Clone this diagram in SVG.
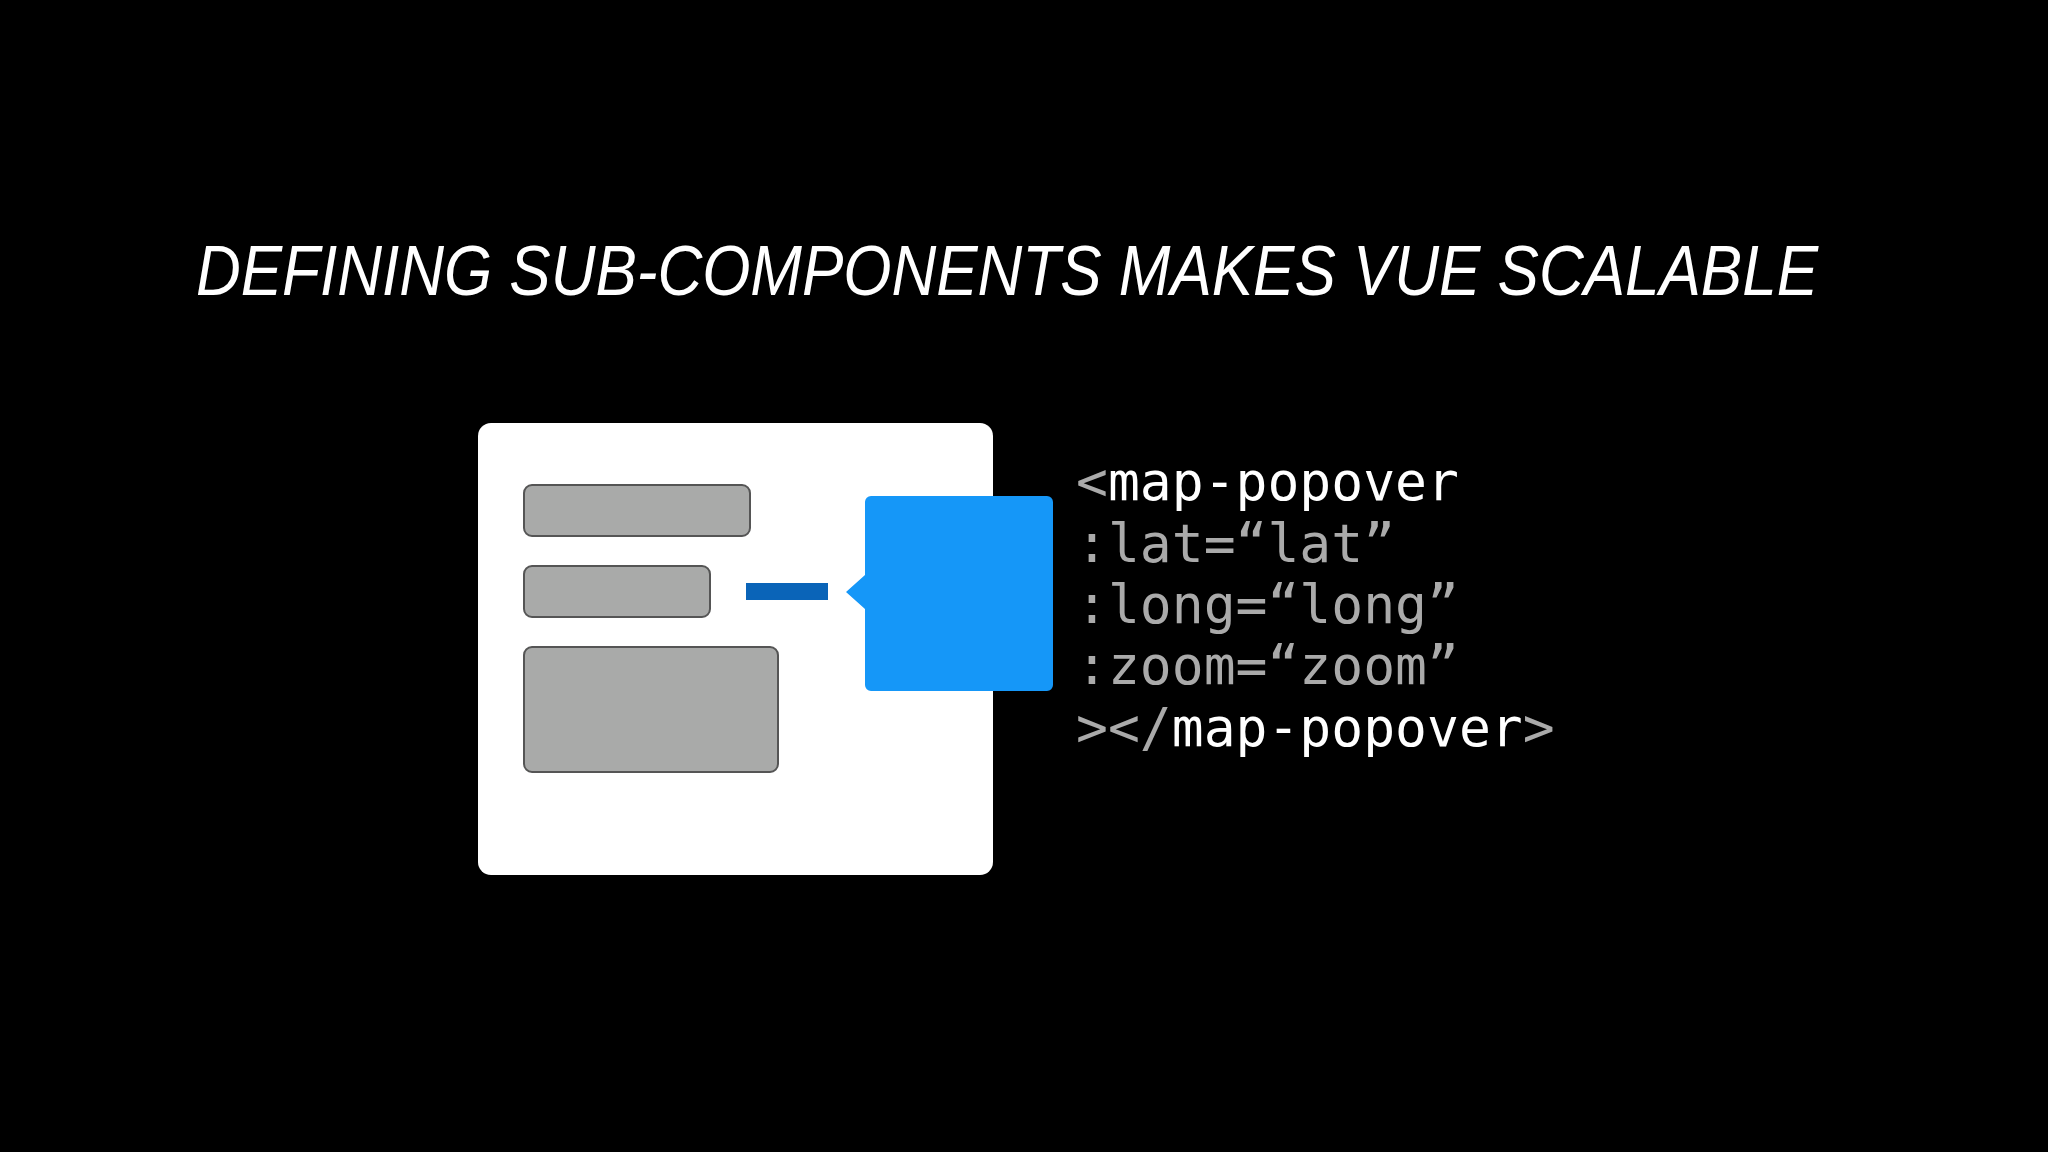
<svg xmlns="http://www.w3.org/2000/svg" width="2048" height="1152" viewBox="0 0 2048 1152">
<style>
.g{fill:#a9aaa9;stroke:#555;stroke-width:2}
.code{font-family:"DejaVu Sans Mono",monospace;font-size:53px;fill:#aaaaaa}
.w{fill:#ffffff}
</style>
<rect width="2048" height="1152" fill="#000"/>
<text x="196" y="295" font-family="Liberation Sans, sans-serif" font-style="italic" font-size="70" fill="#fff" textLength="1622" lengthAdjust="spacingAndGlyphs">DEFINING SUB-COMPONENTS MAKES VUE SCALABLE</text>
<g id="page"><rect x="478" y="423" width="515" height="452" rx="13" fill="#fff"/></g>
<g id="box1"><rect class="g" x="524" y="485" width="226" height="51" rx="8"/></g>
<g id="box2"><rect class="g" x="524" y="566" width="186" height="51" rx="8"/></g>
<g id="box3"><rect class="g" x="524" y="647" width="254" height="125" rx="8"/></g>
<g id="connectors"><rect x="746" y="583" width="82" height="17" fill="#0a64b8"/></g>
<g id="popover"><path d="M871 496 H1047 a6 6 0 0 1 6 6 V685 a6 6 0 0 1 -6 6 H871 a6 6 0 0 1 -6 -6 V609 L846 592 L865 575 V502 a6 6 0 0 1 6 -6 Z" fill="#1597f8"/></g>
<g id="code">
<text class="code" x="1076" y="500">&lt;<tspan class="w">map-popover</tspan></text>
<text class="code" x="1076" y="562"> :lat=“lat”</text>
<text class="code" x="1076" y="623"> :long=“long”</text>
<text class="code" x="1076" y="684"> :zoom=“zoom”</text>
<text class="code" x="1076" y="746">&gt;&lt;/<tspan class="w">map-popover</tspan>&gt;</text>
</g>
</svg>
